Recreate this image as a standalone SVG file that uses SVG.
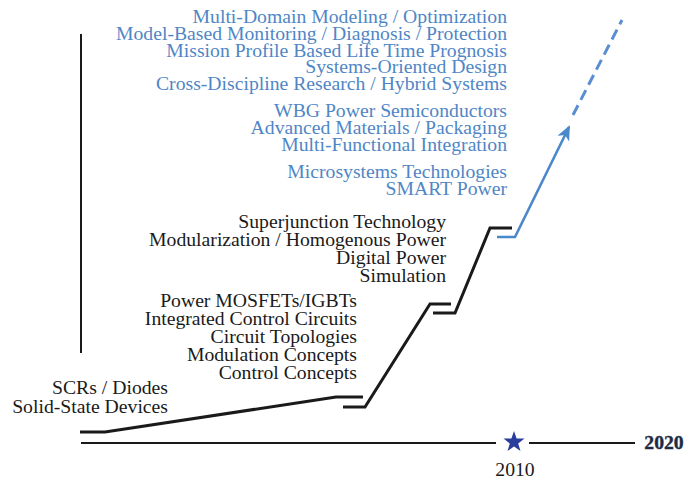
<svg xmlns="http://www.w3.org/2000/svg" width="697" height="480" viewBox="0 0 697 480">
  <style>
    text { font-family: "Liberation Serif", "Times New Roman", serif; font-size: 19.7px; }
    .blue { fill: #4f86c6; text-anchor: end; }
    .black { fill: #1a1a1a; text-anchor: end; }
    .step { fill: none; stroke: #1a1a1a; stroke-width: 3; stroke-linejoin: miter; }
    .axis { fill: none; stroke: #1a1a1a; stroke-width: 2; }
    .trend { fill: none; stroke: #4a88cc; stroke-width: 2.6; }
  </style>
  <defs>
    <marker id="arrow" markerUnits="userSpaceOnUse" markerWidth="16" markerHeight="14" refX="13" refY="6.5" orient="auto">
      <path d="M0,0 L15,6.5 L0,13 L4,6.5 z" fill="#4a88cc"/>
    </marker>
  </defs>

  <g id="connectors">
    <line id="vertical-bar" class="axis" x1="81" y1="34" x2="81" y2="353"/>
    <path id="step-1" class="step" d="M80,432 L105,432 L336,397 L363,397"/>
    <path id="step-2" class="step" d="M343,407 L365,407 L430,304 L451,304"/>
    <path id="step-3" class="step" d="M433,313 L455,313 L490,228 L512,228"/>
    <path id="trend-arrow" class="trend" d="M497,237 L515,237 L569,127" marker-end="url(#arrow)"/>
    <line id="trend-dashed" x1="573" y1="115" x2="622" y2="20" stroke="#5b8dd2" stroke-width="3" stroke-dasharray="11 6"/>
    <line id="timeline-a" class="axis" x1="81" y1="443" x2="496" y2="443"/>
    <line id="timeline-b" class="axis" x1="529" y1="443" x2="635" y2="443"/>
  </g>

  <g id="star-2010">
    <polygon fill="#2b3d9a" points="514,431 516.6,438.4 524.5,438.6 518.2,443.4 520.5,451 514,446.5 507.5,451 509.8,443.4 503.5,438.6 511.4,438.4"/>
  </g>

  <g id="year-labels">
    <text x="515" y="476" text-anchor="middle" fill="#1a1a1a" font-size="19.5">2010</text>
    <text x="664" y="449" text-anchor="middle" fill="#1e2b45" font-size="20" font-weight="bold" stroke="#1e2b45" stroke-width="0.4">2020</text>
  </g>

  <g id="node-future">
    <text class="blue" x="507" y="23">Multi-Domain Modeling / Optimization</text>
    <text class="blue" x="507" y="40">Model-Based Monitoring / Diagnosis / Protection</text>
    <text class="blue" x="507" y="56.5">Mission Profile Based Life Time Prognosis</text>
    <text class="blue" x="507" y="73">Systems-Oriented Design</text>
    <text class="blue" x="507" y="90">Cross-Discipline Research / Hybrid Systems</text>
  </g>

  <g id="node-wbg">
    <text class="blue" x="507" y="116.5">WBG Power Semiconductors</text>
    <text class="blue" x="507" y="134">Advanced Materials / Packaging</text>
    <text class="blue" x="507" y="151">Multi-Functional Integration</text>
  </g>

  <g id="node-smart">
    <text class="blue" x="507" y="177.5">Microsystems Technologies</text>
    <text class="blue" x="507" y="195">SMART Power</text>
  </g>

  <g id="node-superjunction">
    <text class="black" x="446" y="228">Superjunction Technology</text>
    <text class="black" x="446" y="246">Modularization / Homogenous Power</text>
    <text class="black" x="446" y="264">Digital Power</text>
    <text class="black" x="446" y="282">Simulation</text>
  </g>

  <g id="node-mosfet">
    <text class="black" x="357" y="307">Power MOSFETs/IGBTs</text>
    <text class="black" x="357" y="325">Integrated Control Circuits</text>
    <text class="black" x="357" y="343">Circuit Topologies</text>
    <text class="black" x="357" y="361">Modulation Concepts</text>
    <text class="black" x="357" y="379">Control Concepts</text>
  </g>

  <g id="node-scr">
    <text class="black" x="168" y="394">SCRs / Diodes</text>
    <text class="black" x="168" y="413">Solid-State Devices</text>
  </g>
</svg>
